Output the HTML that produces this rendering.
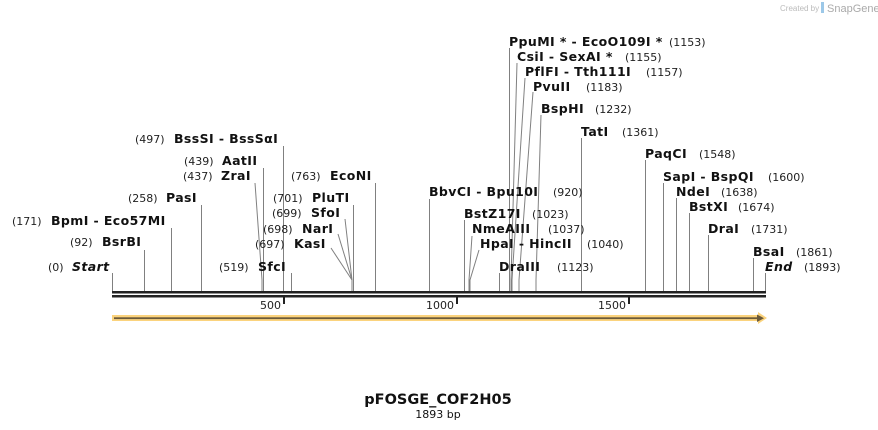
<!DOCTYPE html>
<html><head><meta charset="utf-8"><style>
html,body{margin:0;padding:0;background:#fff;}
svg{display:block;}
text{font-family:"DejaVu Sans","Liberation Sans",sans-serif;fill:#111;}
.n{font-weight:bold;font-size:12.5px;letter-spacing:0.4px;}
.p{font-size:11px;fill:#222;}
.l{stroke:#808080;stroke-width:1;fill:none;}
</style></head><body>
<svg width="878" height="430" viewBox="0 0 878 430" xmlns="http://www.w3.org/2000/svg">
<text x="780" y="11" style="font-size:8px;fill:#bbb;font-family:'Liberation Sans',sans-serif">Created by</text>
<rect x="821" y="2" width="3" height="11" fill="#9cc8e8"/>
<text x="827" y="12" style="font-size:11px;fill:#aaa;font-family:'Liberation Sans',sans-serif">SnapGene</text>

<g class="l">
<line x1="112.5" y1="273" x2="112.5" y2="292"/>
<line x1="144.5" y1="250" x2="144.5" y2="292"/>
<line x1="171.5" y1="228" x2="171.5" y2="292"/>
<line x1="201.5" y1="205" x2="201.5" y2="292"/>
<polyline points="255,183 262,280 262,292"/>
<line x1="263.5" y1="168" x2="263.5" y2="292"/>
<line x1="283.5" y1="146" x2="283.5" y2="292"/>
<line x1="291.5" y1="273" x2="291.5" y2="292"/>
<polyline points="331,248 352,280 352,292"/>
<polyline points="338,234 352,280"/>
<polyline points="345,219 352,280"/>
<line x1="353.5" y1="205" x2="353.5" y2="292"/>
<line x1="375.5" y1="183" x2="375.5" y2="292"/>
<line x1="429.5" y1="199" x2="429.5" y2="292"/>
<line x1="464.5" y1="220" x2="464.5" y2="292"/>
<polyline points="472,236 469,280 469,292"/>
<polyline points="479,250 470,280 470,292"/>
<line x1="499.5" y1="273" x2="499.5" y2="292"/>
<line x1="509.5" y1="48" x2="509.5" y2="292"/>
<polyline points="517,63 511,280 511,292"/>
<polyline points="525,78 512,280 512,292"/>
<polyline points="533,92 519,280 519,292"/>
<polyline points="541,115 536,280 536,292"/>
<line x1="581.5" y1="138" x2="581.5" y2="292"/>
<line x1="645.5" y1="160" x2="645.5" y2="292"/>
<line x1="663.5" y1="183" x2="663.5" y2="292"/>
<line x1="676.5" y1="198" x2="676.5" y2="292"/>
<line x1="689.5" y1="213" x2="689.5" y2="292"/>
<line x1="708.5" y1="235" x2="708.5" y2="292"/>
<line x1="753.5" y1="258" x2="753.5" y2="292"/>
<line x1="765.5" y1="273" x2="765.5" y2="292"/>
</g>

<rect x="112" y="291" width="654" height="2.5" fill="#222"/>
<rect x="112" y="295" width="654" height="2.5" fill="#222"/>
<rect x="283" y="296" width="2" height="8" fill="#222"/>
<rect x="456" y="296" width="2" height="8" fill="#222"/>
<rect x="628" y="296" width="2" height="8" fill="#222"/>
<text x="260" y="309" class="p">500</text>
<text x="426" y="309" class="p">1000</text>
<text x="598" y="309" class="p">1500</text>

<rect x="112" y="315" width="648" height="6" fill="#fbd37d"/>
<polygon points="758,312 767,318 758,324" fill="#fbd37d"/>
<rect x="114" y="317.3" width="646" height="1.8" fill="#6b5a3a"/>
<polygon points="757,314.5 764,318.2 757,322" fill="#6b5a3a"/>

<text x="48" y="271" class="p">(0)</text><text x="72" y="271" class="n" font-style="italic">Start</text>
<text x="70" y="246" class="p">(92)</text><text x="102" y="246" class="n">BsrBI</text>
<text x="12" y="225" class="p">(171)</text><text x="51" y="225" class="n">BpmI  - Eco57MI</text>
<text x="128" y="202" class="p">(258)</text><text x="166" y="202" class="n">PasI</text>
<text x="183" y="180" class="p">(437)</text><text x="221" y="180" class="n">ZraI</text>
<text x="184" y="165" class="p">(439)</text><text x="222" y="165" class="n">AatII</text>
<text x="135" y="143" class="p">(497)</text><text x="174" y="143" class="n">BssSI  - BssSαI</text>
<text x="219" y="271" class="p">(519)</text><text x="258" y="271" class="n">SfcI</text>
<text x="255" y="248" class="p">(697)</text><text x="294" y="248" class="n">KasI</text>
<text x="263" y="233" class="p">(698)</text><text x="302" y="233" class="n">NarI</text>
<text x="272" y="217" class="p">(699)</text><text x="311" y="217" class="n">SfoI</text>
<text x="273" y="202" class="p">(701)</text><text x="312" y="202" class="n">PluTI</text>
<text x="291" y="180" class="p">(763)</text><text x="330" y="180" class="n">EcoNI</text>

<text x="429" y="196" class="n">BbvCI  - Bpu10I</text><text x="553" y="196" class="p">(920)</text>
<text x="464" y="218" class="n">BstZ17I</text><text x="532" y="218" class="p">(1023)</text>
<text x="472" y="233" class="n">NmeAIII</text><text x="548" y="233" class="p">(1037)</text>
<text x="480" y="248" class="n">HpaI  - HincII</text><text x="587" y="248" class="p">(1040)</text>
<text x="499" y="271" class="n">DraIII</text><text x="557" y="271" class="p">(1123)</text>
<text x="509" y="46" class="n">PpuMI *  - EcoO109I *</text><text x="669" y="46" class="p">(1153)</text>
<text x="517" y="61" class="n">CsiI  - SexAI *</text><text x="625" y="61" class="p">(1155)</text>
<text x="525" y="76" class="n">PflFI  - Tth111I</text><text x="646" y="76" class="p">(1157)</text>
<text x="533" y="91" class="n">PvuII</text><text x="586" y="91" class="p">(1183)</text>
<text x="541" y="113" class="n">BspHI</text><text x="595" y="113" class="p">(1232)</text>
<text x="581" y="136" class="n">TatI</text><text x="622" y="136" class="p">(1361)</text>
<text x="645" y="158" class="n">PaqCI</text><text x="699" y="158" class="p">(1548)</text>
<text x="663" y="181" class="n">SapI  - BspQI</text><text x="768" y="181" class="p">(1600)</text>
<text x="676" y="196" class="n">NdeI</text><text x="721" y="196" class="p">(1638)</text>
<text x="689" y="211" class="n">BstXI</text><text x="738" y="211" class="p">(1674)</text>
<text x="708" y="233" class="n">DraI</text><text x="751" y="233" class="p">(1731)</text>
<text x="753" y="256" class="n">BsaI</text><text x="796" y="256" class="p">(1861)</text>
<text x="765" y="271" class="n" font-style="italic">End</text><text x="804" y="271" class="p">(1893)</text>

<text x="438" y="404" text-anchor="middle" style="font-weight:bold;font-size:14.5px">pFOSGE_COF2H05</text>
<text x="438" y="418" text-anchor="middle" style="font-size:11px">1893 bp</text>
</svg>
</body></html>
